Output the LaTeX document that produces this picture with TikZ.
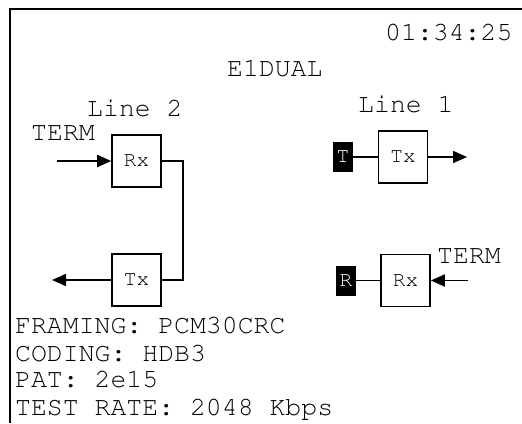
\documentclass[tikz,border=0pt]{standalone}
\usepackage[T1]{fontenc}
\usepackage{courier}
\usepackage{tikz}
\usetikzlibrary{arrows.meta, positioning}

\newcommand{\lcdfont}{\ttfamily\fontsize{26.5}{26.5}\selectfont}
\newcommand{\boxfont}{\ttfamily\fontsize{21}{21}\selectfont}

\begin{document}
\begin{tikzpicture}[
    x=1pt, y=-1pt,
    box/.style={
        draw,
        line width=1.6pt,
        minimum width=49pt,
        minimum height=52pt,
        inner sep=0pt,
        font=\boxfont
    },
    tag/.style={
        fill=black,
        text=white,
        minimum width=20pt,
        minimum height=30pt,
        inner sep=0pt,
        font=\boxfont
    },
    lcd/.style={anchor=base west, inner sep=0pt, font=\lcdfont},
    arrow/.style={-{Triangle[length=14pt,width=12pt]}, line width=1.8pt},
    wire/.style={line width=1.6pt}
]

\useasboundingbox (0,0) rectangle (522,423);

% --- Screen frame
\draw[line width=2.4pt] (10,423) -- (10,9) -- (522,9);

% --- Header
\node[lcd] (clock) at (385,40) {01:34:25};
\node[lcd] (title) at (227,76) {E1DUAL};

% --- Line 2 (loop back)
\node[lcd] (line2) at (87,116) {Line 2};
\node[lcd] (term2) at (31,140) {TERM};
\node[box] (rx2) at (136.5,161) {Rx};
\node[box] (tx2) at (136.5,280) {Tx};
\coordinate (in2) at (57,161);
\coordinate (out2) at (52,280);

\draw[arrow] (in2) -- (rx2.west);
\draw[wire] (rx2.east) -- ++(21,0) |- (tx2.east);
\draw[arrow] (tx2.west) -- (out2);

% --- Line 1
\node[lcd] (line1) at (358,112) {Line 1};
\node[tag] (tagT) at (343,157) {T};
\node[box] (tx1) at (403,157) {Tx};
\node[tag] (tagR) at (346,280.5) {R};
\node[box] (rx1) at (405.5,280.5) {Rx};
\node[lcd] (term1) at (437,263) {TERM};
\coordinate (out1) at (467,157);
\coordinate (in1) at (468,280.5);

\draw[wire] (tagT) -- (tx1);
\draw[arrow] (tx1.east) -- (out1);
\draw[wire] (tagR) -- (rx1);
\draw[arrow] (in1) -- (rx1.east);

% --- Settings
\node[lcd] (framing) at (15,333) {FRAMING: PCM30CRC};
\node[lcd] (coding) at (15,361) {CODING: HDB3};
\node[lcd] (pat) at (15,387) {PAT: 2e15};
\node[lcd] (rate) at (15,415) {TEST RATE: 2048 Kbps};

\end{tikzpicture}
\end{document}
